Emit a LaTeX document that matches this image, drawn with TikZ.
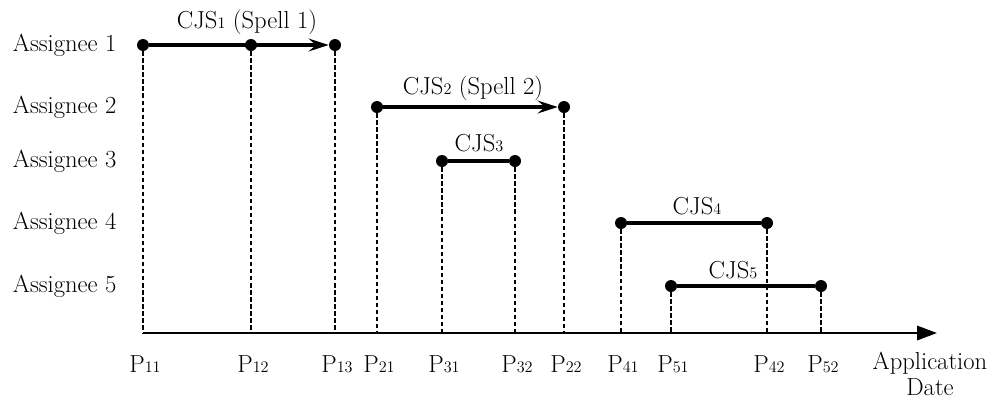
\documentclass[tikz,border=0pt]{standalone}
\usetikzlibrary{arrows.meta}
\newcommand\lowidx[1]{{\fontsize{11.5}{12}\selectfont#1}}

\begin{document}
\begin{tikzpicture}[x=0.025cm,y=-0.025cm,
  font=\fontsize{17.5}{19}\selectfont,
  dot/.style={circle,fill,inner sep=0pt,minimum size=0.3cm},
  spell/.style={line width=2.4pt},
  drop/.style={line width=0.9pt,dash pattern=on 3pt off 2pt}]
  \useasboundingbox (0,0) rectangle (995,403);
  % assignees
  \node[anchor=west] (a1) at (8,45) {Assignee 1};
  \node[anchor=west] (a2) at (8,107) {Assignee 2};
  \node[anchor=west] (a3) at (8,161) {Assignee 3};
  \node[anchor=west] (a4) at (8,223) {Assignee 4};
  \node[anchor=west] (a5) at (8,286) {Assignee 5};
  % time axis
  \coordinate (o) at (143,333);
  \coordinate (end) at (937,333);
  \draw[line width=1.5pt,-{Triangle[length=0.5cm,width=0.36cm]}] (o) -- (end);
  \node[align=center] (appdate) at (930,374) {Application\\Date};
  % points and drop lines
  \foreach \i/\j/\x/\y in {1/1/143/45,1/2/251/45,1/3/335/45,2/1/377/107,2/2/564/107,
      3/1/442/161,3/2/515/161,4/1/621/223,4/2/767/223,5/1/671/286,5/2/821/286}{
    \node[dot] (p\i\j) at (\x,\y) {};
    \coordinate (b\i\j) at (\x,333);
    \draw[drop] (p\i\j) -- (b\i\j);
    \node (l\i\j) at (\x+2,364) {P\lowidx{\i\j}};
  }
  % spells
  \draw[spell,-{Stealth[length=0.5cm,width=0.32cm,inset=0.18cm]}] (p11) -- (p13);
  \draw[spell,-{Stealth[length=0.5cm,width=0.32cm,inset=0.18cm]}] (p21) -- (p22);
  \draw[spell] (p31) -- (p32);
  \draw[spell] (p41) -- (p42);
  \draw[spell] (p51) -- (p52);
  \node (cjs1) at (247,22) {CJS\lowidx{1} (Spell 1)};
  \node (cjs2) at (473,88) {CJS\lowidx{2} (Spell 2)};
  \node (cjs3) at (479,143) {CJS\lowidx{3}};
  \node (cjs4) at (697,206) {CJS\lowidx{4}};
  \node (cjs5) at (733,270) {CJS\lowidx{5}};
\end{tikzpicture}
\end{document}
